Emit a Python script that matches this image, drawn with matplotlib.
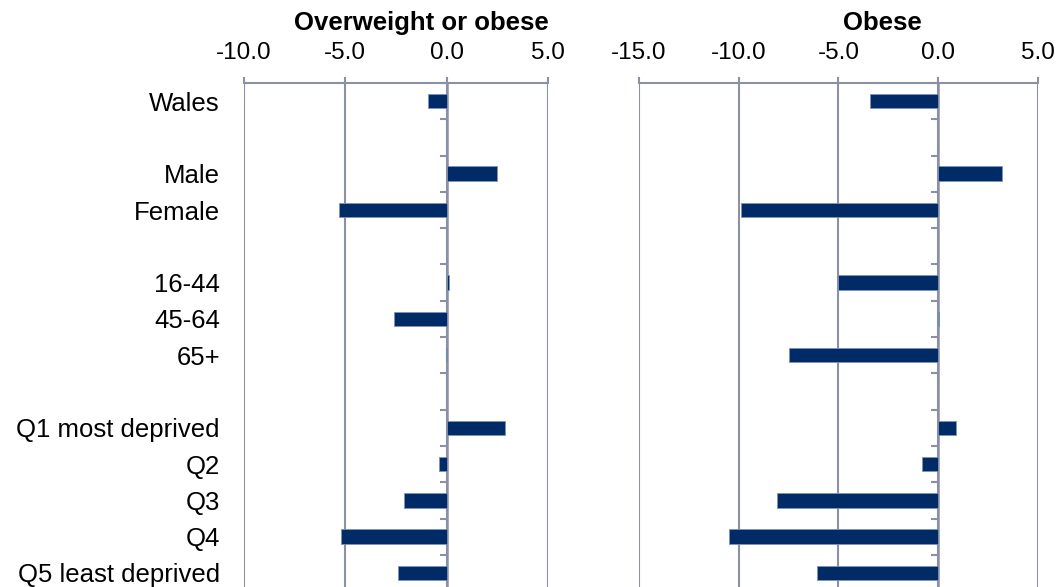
import numpy as np
import matplotlib
matplotlib.use("Agg")
import matplotlib.pyplot as plt
import matplotlib.transforms as mtransforms

# Change in prevalence (percentage points), blank rows separate the groups
categories = ["Wales", "", "Male", "Female", "", "16-44", "45-64", "65+", "",
              "Q1 most deprived", "Q2", "Q3", "Q4", "Q5 least deprived"]
overweight_obese = [-0.9, np.nan, 2.5, -5.3, np.nan, 0.1, -2.6, -0.05, np.nan,
                    2.9, -0.4, -2.1, -5.2, -2.4]
obese = [-3.4, np.nan, 3.2, -9.9, np.nan, -5.0, 0.05, -7.5, np.nan,
         0.9, -0.8, -8.1, -10.5, -6.1]

panel_titles = ["Overweight or obese", "Obese"]
x_limits = [(-10, 5), (-15, 5)]
x_ticks = [[-10, -5, 0, 5], [-15, -10, -5, 0, 5]]

bar_color = "#002b66"
line_color = "#8c90a6"
plt.rcParams["font.family"] = ["Liberation Sans", "DejaVu Sans"]

fig = plt.figure(figsize=(10.6, 5.87), dpi=100)
ax1 = fig.add_axes([0.2302, -0.007, 0.2868, 0.8656])
ax2 = fig.add_axes([0.6028, -0.007, 0.3764, 0.8656])
title_x = [0.585, 0.609]

ypos = np.arange(len(categories))
for i, (ax, vals) in enumerate(zip([ax1, ax2], [overweight_obese, obese])):
    ax.barh(ypos, vals, height=0.4, color=bar_color, edgecolor="#7f93b8",
            linewidth=0.6, zorder=3)
    ax.set_xlim(*x_limits[i])
    ax.set_ylim(len(categories) - 0.5, -0.5)
    ax.set_xticks(x_ticks[i])
    ax.set_xticklabels([f"{t:.1f}" for t in x_ticks[i]], fontsize=17.5)
    ax.xaxis.tick_top()
    ax.tick_params(axis="x", direction="out", length=4.5, width=1.5,
                   color=line_color, pad=9)
    for t in x_ticks[i]:
        ax.axvline(t, color=line_color, linewidth=1.5, zorder=1)
    for side in ["right", "bottom"]:
        ax.spines[side].set_visible(False)
    ax.spines["top"].set_color(line_color)
    ax.spines["top"].set_linewidth(1.5)
    ax.spines["left"].set_position(("data", 0))
    ax.spines["left"].set_color(line_color)
    ax.spines["left"].set_linewidth(1.8)
    ax.spines["left"].set_zorder(2)
    ax.set_yticks(np.arange(len(categories) + 1) - 0.5)
    ax.set_yticklabels([])
    ax.tick_params(axis="y", direction="out", length=5, width=1.5,
                   color=line_color)
    ax.text(title_x[i], 1.104, panel_titles[i], transform=ax.transAxes,
            ha="center", va="baseline", fontsize=18.5, fontweight="bold")

trans = mtransforms.blended_transform_factory(ax1.transAxes, ax1.transData)
for y, name in zip(ypos, categories):
    if name:
        ax1.text(-0.079, y, name, transform=trans, ha="right",
                 va="center_baseline", fontsize=18.5)

fig.savefig("out.png", dpi=100)
